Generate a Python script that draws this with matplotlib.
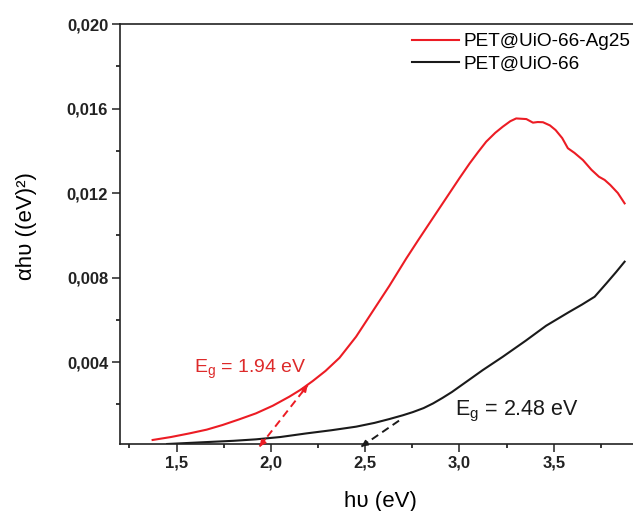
import matplotlib
matplotlib.use("Agg")
import matplotlib.pyplot as plt
from matplotlib.ticker import MultipleLocator, FixedLocator, FuncFormatter

plt.rcParams['font.family'] = ['Liberation Sans', 'DejaVu Sans']
plt.rcParams['mathtext.fontset'] = 'custom'
plt.rcParams['mathtext.rm'] = 'Liberation Sans'
plt.rcParams['mathtext.it'] = 'Liberation Sans'

# Tauc plot data: photon energy (eV) vs (alpha h nu)^2
energy_ag = [1.373, 1.47, 1.567, 1.66, 1.744, 1.83, 1.921, 2.01, 2.098, 2.16,
             2.222, 2.29, 2.364, 2.452, 2.54, 2.628, 2.718, 2.78, 2.841, 2.947,
             3.00, 3.054, 3.10, 3.142, 3.19, 3.23, 3.27, 3.301, 3.355, 3.39,
             3.415, 3.443, 3.48, 3.51, 3.545, 3.575, 3.61, 3.655, 3.70, 3.74,
             3.77, 3.80, 3.84, 3.876]
tauc_ag = [0.00031, 0.00045, 0.00062, 0.00080, 0.00102, 0.00128, 0.00157, 0.00193,
           0.00236, 0.00270, 0.00310, 0.00358, 0.00420, 0.00520, 0.00640, 0.00760,
           0.00890, 0.00975, 0.01057, 0.01199, 0.01270, 0.01340, 0.01395, 0.01443,
           0.01485, 0.01514, 0.01540, 0.01553, 0.01550, 0.01533, 0.01536, 0.01535,
           0.01520, 0.01498, 0.01460, 0.01412, 0.01390, 0.01356, 0.01310, 0.01277,
           0.01262, 0.01238, 0.01200, 0.01151]

energy_uio = [1.45, 1.656, 1.80, 1.921, 2.05, 2.187, 2.32, 2.452, 2.55, 2.628,
              2.70, 2.753, 2.81, 2.86, 2.91, 2.96, 3.05, 3.124, 3.23, 3.35,
              3.46, 3.58, 3.65, 3.717, 3.78, 3.83, 3.876]
tauc_uio = [0.00012, 0.00021, 0.00027, 0.00034, 0.00045, 0.00062, 0.00077, 0.00094,
            0.00112, 0.00130, 0.00148, 0.00163, 0.00182, 0.00204, 0.00230, 0.00258,
            0.00315, 0.00362, 0.00425, 0.00500, 0.00572, 0.00636, 0.00672, 0.00709,
            0.00773, 0.00825, 0.00875]

series_labels = ["PET@UiO-66-Ag25", "PET@UiO-66"]
x_ticks = [1.5, 2.0, 2.5, 3.0, 3.5]

# Band-gap extrapolations: intercept on the energy axis and upper end of the tangent
eg_ag = 1.94
tangent_ag_end = (2.195, 0.0029)
eg_uio = 2.48
tangent_uio_end = (2.70, 0.00135)

RED = '#ec1c24'
BLACK = '#1a1a1a'

fig = plt.figure(figsize=(6.33, 5.11), dpi=100)
ax = fig.add_axes([120 / 633, 67 / 511, 528 / 633, 420 / 511])

ax.plot(energy_ag, tauc_ag, color=RED, lw=1.5, label=series_labels[0])
ax.plot(energy_uio, tauc_uio, color=BLACK, lw=1.5, label=series_labels[1])


def tangent(eg, end, color, heads):
    ax.plot([eg, end[0]], [0, end[1]], color=color, lw=1.4,
            linestyle=(0, (4, 2.5)), clip_on=False)
    dx, dy = end[0] - eg, end[1]
    for tip, back in heads:
        p_tip = (eg + dx * tip, dy * tip)
        p_back = (eg + dx * back, dy * back)
        ax.annotate('', xy=p_tip, xytext=p_back, annotation_clip=False,
                    arrowprops=dict(arrowstyle='-|>', color=color, lw=1.2,
                                    mutation_scale=9, shrinkA=0, shrinkB=0))


tangent(eg_ag, tangent_ag_end, RED, [(0.0, 0.12), (1.0, 0.88)])
tangent(eg_uio, tangent_uio_end, BLACK, [(0.0, 0.15)])

ax.text(1.594, 0.00348, r'E$_\mathregular{g}$ = 1.94 eV', color='#dd2a2a',
        fontsize=14, va='baseline', ha='left')
ax.text(2.974, 0.00149, r'E$_\mathregular{g}$ = 2.48 eV', color=BLACK,
        fontsize=15.5, va='baseline', ha='left')

ax.set_xlim(1.2, 4.0)
ax.set_ylim(0.00012, 0.020)

ax.xaxis.set_major_locator(FixedLocator(x_ticks))
ax.xaxis.set_minor_locator(MultipleLocator(0.25))
ax.yaxis.set_major_locator(MultipleLocator(0.004))
ax.yaxis.set_minor_locator(MultipleLocator(0.002))

ax.xaxis.set_major_formatter(FuncFormatter(lambda v, p: f"{v:.1f}".replace('.', ',')))
ax.yaxis.set_major_formatter(FuncFormatter(lambda v, p: f"{v:.3f}".replace('.', ',')))

ax.tick_params(axis='both', which='major', direction='out', length=5.5, width=1.1,
               labelsize=12, pad=3, colors='#222222')
ax.tick_params(axis='both', which='minor', direction='out', length=3, width=1.1)
for lab in ax.get_xticklabels() + ax.get_yticklabels():
    lab.set_fontweight('bold')

for side in ['left', 'bottom', 'top', 'right']:
    ax.spines[side].set_linewidth(1.2)
    ax.spines[side].set_color('#222222')

ax.set_xlabel('hυ (eV)', fontsize=16)
ax.set_ylabel('αhυ ((eV)²)', fontsize=16)
ax.xaxis.set_label_coords(0.494, -0.112)
ax.yaxis.set_label_coords(-0.157, 0.52)

fig.legend(loc='upper left', bbox_to_anchor=(412 / 633, 1 - 33 / 511), frameon=False,
           fontsize=13.7, handlelength=2.45, handletextpad=0.25, labelspacing=0.25,
           borderpad=0, borderaxespad=0)

fig.savefig('out.png', dpi=100)
